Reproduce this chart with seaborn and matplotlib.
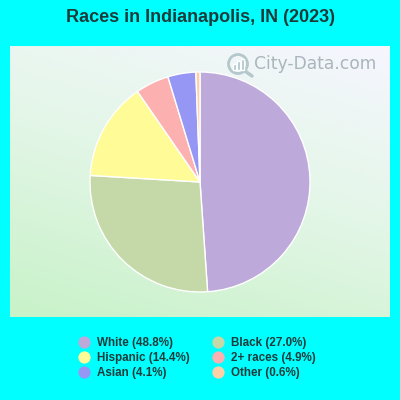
import numpy as np
import matplotlib
matplotlib.use("Agg")
import matplotlib.pyplot as plt
from matplotlib.colors import LinearSegmentedColormap
from matplotlib.lines import Line2D
from matplotlib.patches import Circle
import seaborn as sns

# Races data
races = ['White', 'Black', 'Hispanic', '2+ races', 'Asian', 'Other']
shares = [48.8, 27.0, 14.4, 4.9, 4.1, 0.6]
colors = ['#bda9da', '#c4d8a8', '#fffb96', '#fdb0b0', '#9696f4', '#fdd0a8']
legend_order = ['White', 'Hispanic', 'Asian', 'Black', '2+ races', 'Other']

sns.set_theme(style="white")
plt.rcParams['font.family'] = ['Liberation Sans', 'DejaVu Sans']
text_color = '#1c3c3c'

fig = plt.figure(figsize=(4, 4), dpi=100, facecolor='#00ffff')
# panel in pixel units so the pie can sit where it does in the picture
ax = fig.add_axes([10 / 400, 83 / 400, 380 / 400, 271 / 400])

# background, green at the bottom left to pale blue at the top right
xx, yy = np.meshgrid(np.linspace(0, 1, 200), np.linspace(0, 1, 200))
grad = 0.3 * xx + 0.7 * (1 - yy)
cmap = LinearSegmentedColormap.from_list('bg', ['#c8f2c8', '#e2f6e6', '#f6f6ff'])
ax.imshow(grad, cmap=cmap, extent=(10, 390, 83, 354), aspect='auto', zorder=0, vmin=0, vmax=1)

palette = sns.color_palette(colors)
ax.pie(shares, colors=palette, startangle=90, counterclock=False, center=(200, 218), radius=110,
       frame=True, wedgeprops={'edgecolor': 'white', 'linewidth': 1})
ax.set_xticks([])
ax.set_yticks([])
for s in ax.spines.values():
    s.set_visible(False)

# watermark
ax.add_patch(Circle((238, 336), 9.5, fill=False, ec='#b4c8cc', lw=2, zorder=3))
ax.plot([245, 252], [329, 324], color='#b4c8cc', lw=2.5, zorder=3)
ax.bar([234, 238, 242], [6, 9, 11], width=3, bottom=330, color='#a8c4cc', zorder=3)
ax.set_xlim(10, 390)
ax.set_ylim(83, 354)
ax.text(254, 336, 'City-Data.com', fontsize=12.3, family='DejaVu Sans', color='#aab6bc',
        va='center', ha='left', zorder=3)

fig.text(0.5, 1 - 18 / 400, 'Races in Indianapolis, IN (2023)', ha='center', va='center',
         fontsize=13, fontweight='bold', color=text_color)

handles = []
for name in legend_order:
    i = races.index(name)
    handles.append(Line2D([], [], linestyle='none', marker='o', markersize=8.8, markeredgewidth=0,
                          color=colors[i], label='%s (%.1f%%)' % (name, shares[i])))
fig.legend(handles=handles, ncol=2, frameon=False, loc='center left', bbox_to_anchor=(0.182, 1 - 358 / 400),
           prop={'size': 8.4, 'weight': 'bold'}, labelcolor=text_color, labelspacing=0.285,
           handletextpad=0.1, columnspacing=1.37, borderpad=0, borderaxespad=0)

plt.savefig('out.png', dpi=100, facecolor=fig.get_facecolor())
